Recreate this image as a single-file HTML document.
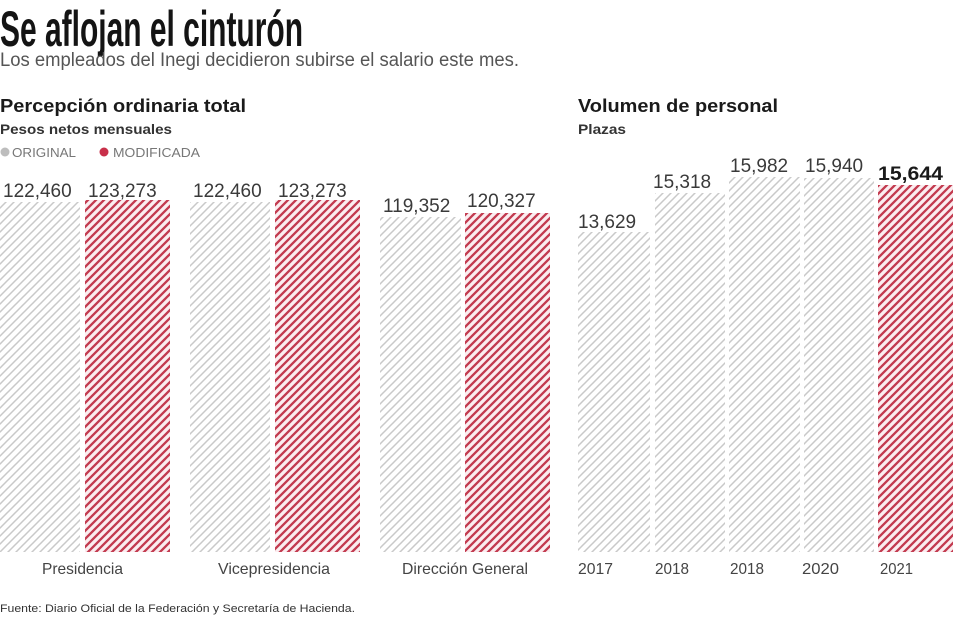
<!DOCTYPE html>
<html><head><meta charset="utf-8"><style>
html,body{margin:0;padding:0;background:#fff;}
svg{display:block;}
text{font-family:"Liberation Sans",sans-serif;}
</style></head><body>
<svg width="953" height="620" viewBox="0 0 953 620" xmlns="http://www.w3.org/2000/svg">
<defs>
<pattern id="g" patternUnits="userSpaceOnUse" width="8" height="8">
<rect width="8" height="8" fill="#fff"/>
<path d="M-2,2 L2,-2 M0,8 L8,0 M6,10 L10,6" stroke="#c9c9c9" stroke-width="1.5"/>
</pattern>
<pattern id="r" patternUnits="userSpaceOnUse" width="8" height="8">
<rect width="8" height="8" fill="#fbedf0"/>
<path d="M-2,2 L2,-2 M0,8 L8,0 M6,10 L10,6" stroke="#c23a4f" stroke-width="2.3"/>
</pattern>
</defs>
<rect width="953" height="620" fill="#fff"/>

<text x="0" y="46" font-size="50" font-weight="bold" fill="#141414" textLength="303" lengthAdjust="spacingAndGlyphs">Se aflojan el cinturón</text>
<text x="0" y="66" font-size="19" fill="#555" textLength="519" lengthAdjust="spacingAndGlyphs">Los empleados del Inegi decidieron subirse el salario este mes.</text>

<text x="0" y="112" font-size="18.5" font-weight="bold" fill="#1a1a1a" textLength="246" lengthAdjust="spacingAndGlyphs">Percepción ordinaria total</text>
<text x="0" y="134" font-size="14" font-weight="bold" fill="#333" textLength="172" lengthAdjust="spacingAndGlyphs">Pesos netos mensuales</text>
<circle cx="5" cy="152" r="4.5" fill="#bdbdbd"/>
<text x="12" y="157" font-size="12.5" fill="#777" textLength="64" lengthAdjust="spacingAndGlyphs">ORIGINAL</text>
<circle cx="104" cy="152" r="4.5" fill="#c8304a"/>
<text x="113" y="157" font-size="12.5" fill="#777" textLength="87" lengthAdjust="spacingAndGlyphs">MODIFICADA</text>

<text x="578" y="112" font-size="18.5" font-weight="bold" fill="#1a1a1a" textLength="200" lengthAdjust="spacingAndGlyphs">Volumen de personal</text>
<text x="578" y="134" font-size="14" font-weight="bold" fill="#333" textLength="48" lengthAdjust="spacingAndGlyphs">Plazas</text>

<!-- left bars -->
<rect x="0" y="202" width="80" height="350" fill="url(#g)"/>
<rect x="85" y="200" width="85" height="352" fill="url(#r)"/>
<rect x="190" y="202" width="80" height="350" fill="url(#g)"/>
<rect x="275" y="200" width="85" height="352" fill="url(#r)"/>
<rect x="380" y="217" width="81" height="335" fill="url(#g)"/>
<rect x="465" y="213" width="85" height="339" fill="url(#r)"/>

<g font-size="19" fill="#3a3a3a">
<text x="3" y="197">122,460</text>
<text x="88" y="197">123,273</text>
<text x="193" y="197">122,460</text>
<text x="278" y="197">123,273</text>
<text x="383" y="212">119,352</text>
<text x="467" y="207">120,327</text>
</g>

<!-- right bars -->
<rect x="578" y="232" width="72" height="320" fill="url(#g)"/>
<rect x="655" y="193" width="70" height="359" fill="url(#g)"/>
<rect x="729" y="177" width="71" height="375" fill="url(#g)"/>
<rect x="804" y="178" width="70" height="374" fill="url(#g)"/>
<rect x="878" y="185" width="75" height="367" fill="url(#r)"/>

<g font-size="19" fill="#3a3a3a">
<text x="578" y="228">13,629</text>
<text x="653" y="188">15,318</text>
<text x="730" y="172">15,982</text>
<text x="805" y="172">15,940</text>
<text x="878" y="180" font-weight="bold" fill="#1a1a1a" textLength="65" lengthAdjust="spacingAndGlyphs">15,644</text>
</g>

<g font-size="16" fill="#444">
<text x="42" y="574" textLength="81" lengthAdjust="spacingAndGlyphs">Presidencia</text>
<text x="218" y="574" textLength="112" lengthAdjust="spacingAndGlyphs">Vicepresidencia</text>
<text x="402" y="574" textLength="126" lengthAdjust="spacingAndGlyphs">Dirección General</text>
<text x="578" y="574" textLength="35" lengthAdjust="spacingAndGlyphs">2017</text>
<text x="655" y="574" textLength="34" lengthAdjust="spacingAndGlyphs">2018</text>
<text x="730" y="574" textLength="34" lengthAdjust="spacingAndGlyphs">2018</text>
<text x="802" y="574" textLength="37" lengthAdjust="spacingAndGlyphs">2020</text>
<text x="880" y="574" textLength="33" lengthAdjust="spacingAndGlyphs">2021</text>
</g>

<text x="0" y="612" font-size="11" fill="#333" textLength="355" lengthAdjust="spacingAndGlyphs">Fuente: Diario Oficial de la Federación y Secretaría de Hacienda.</text>
</svg>
</body></html>
